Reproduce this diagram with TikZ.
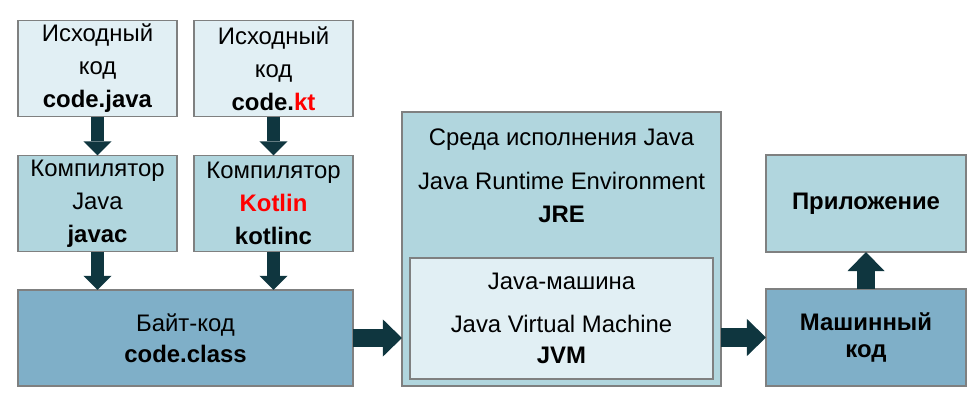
\documentclass[tikz,border=0pt]{standalone}
\usepackage{fontspec}
\setmainfont{Liberation Sans}
\usetikzlibrary{arrows.meta}
\definecolor{boxlight}{HTML}{E1EFF4}
\definecolor{boxmid}{HTML}{B1D6DE}
\definecolor{boxdark}{HTML}{7FAFC8}
\definecolor{boxline}{HTML}{7F8080}
\definecolor{arrowdark}{HTML}{0F363F}
\definecolor{ktred}{HTML}{FF0000}
\begin{document}
\begin{tikzpicture}[x=0.025cm,y=-0.025cm,inner sep=0pt,outer sep=0pt,
font=\fontsize{17pt}{23.4pt}\selectfont,
sysblock/.style={draw=boxline,rectangle,line width=0.9pt,align=center,minimum width=3.975cm,minimum height=2.4cm},
lightblock/.style={sysblock,fill=boxlight},
midblock/.style={sysblock,fill=boxmid},
darkblock/.style={sysblock,fill=boxdark},
smallarrow/.style={arrowdark,line width=0.325cm,-{Triangle[width=0.7cm,length=0.35cm,line width=0pt]}},
bigarrow/.style={arrowdark,line width=0.45cm,-{Triangle[width=0.925cm,length=0.475cm,line width=0pt]}}]
\useasboundingbox (0,0) rectangle (980,412);
% sources and compilers
\draw (97.5,68.5) node[lightblock] (srcjava) {Исходный\\код\\\textbf{code.java}};
\draw (273.5,68.5) node[lightblock] (srckt) {Исходный\\код\\\textbf{code.\textcolor{ktred}{kt}}};
\draw (97.5,203.5) node[midblock] (javac) {Компилятор\\Java\\\textbf{javac}};
\draw (273.5,203.5) node[midblock] (kotlinc) {Компилятор\\\textcolor{ktred}{\textbf{Kotlin}}\\\textbf{kotlinc}};
\draw (185.5,338) node[darkblock,minimum width=8.375cm] (bytecode) {Байт-код\\[-1.5pt]\textbf{code.class}};
% runtime
\draw (561.5,249) node[midblock,minimum width=7.975cm,minimum height=6.85cm] (jre) {};
\draw (561.5,176) node[align=center] (jretxt) {Среда исполнения Java\\[8pt]Java Runtime Environment\\\textbf{JRE}};
\draw (561.5,318.5) node[lightblock,minimum width=7.575cm,minimum height=3.025cm] (jvm) {Java-машина\\[7pt]Java Virtual Machine\\[-1pt]\textbf{JVM}};
% result
\draw (866,337.5) node[darkblock,minimum width=5cm,minimum height=2.425cm] (mashcode) {\textbf{Машинный}\\[-4pt]\textbf{код}};
\draw (866,203.5) node[midblock,minimum width=5cm,minimum height=2.425cm] (app) {\textbf{Приложение}};
% arrows
\draw[smallarrow] (srcjava.south) -- (javac.north);
\draw[smallarrow] (srckt.south) -- (kotlinc.north);
\draw[smallarrow] (javac.south) -- (javac.south |- bytecode.north);
\draw[smallarrow] (kotlinc.south) -- (kotlinc.south |- bytecode.north);
\draw[bigarrow] (bytecode.east) -- (bytecode.east -| jre.west);
\draw[bigarrow] (jre.east |- mashcode.west) -- (mashcode.west);
\draw[bigarrow] (mashcode.north) -- (app.south);
\end{tikzpicture}
\end{document}
